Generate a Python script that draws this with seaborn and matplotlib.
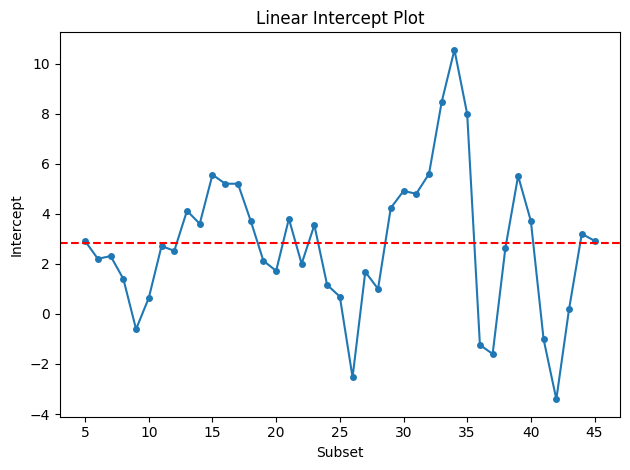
import numpy as np
import pandas as pd
import matplotlib
matplotlib.use('Agg')
import matplotlib.pyplot as plt
import seaborn as sns

subsets = list(range(5, 46))
intercepts = [2.91, 2.20, 2.31, 1.40, -0.61, 0.64, 2.71, 2.52, 4.12, 3.60,
              5.56, 5.20, 5.20, 3.72, 2.12, 1.72, 3.80, 2.00, 3.55, 1.16,
              0.69, -2.53, 1.68, 1.00, 4.23, 4.91, 4.80, 5.59, 8.47, 10.55,
              7.99, -1.24, -1.60, 2.63, 5.51, 3.71, -1.01, -3.41, 0.19, 3.20,
              2.92]
ref_level = 2.83

df = pd.DataFrame({'Subset': subsets, 'Intercept': intercepts})

plt.figure(figsize=(6.4, 4.8), dpi=100)
sns.lineplot(data=df, x='Subset', y='Intercept', marker='o', markersize=5,
             markeredgewidth=0, color='#1f77b4')
plt.axhline(ref_level, color='red', linestyle='--')

plt.title('Linear Intercept Plot')
plt.xlabel('Subset')
plt.ylabel('Intercept')
plt.xticks(range(5, 46, 5))

plt.tight_layout()
plt.savefig('out.png', dpi=100, bbox_inches='tight')
